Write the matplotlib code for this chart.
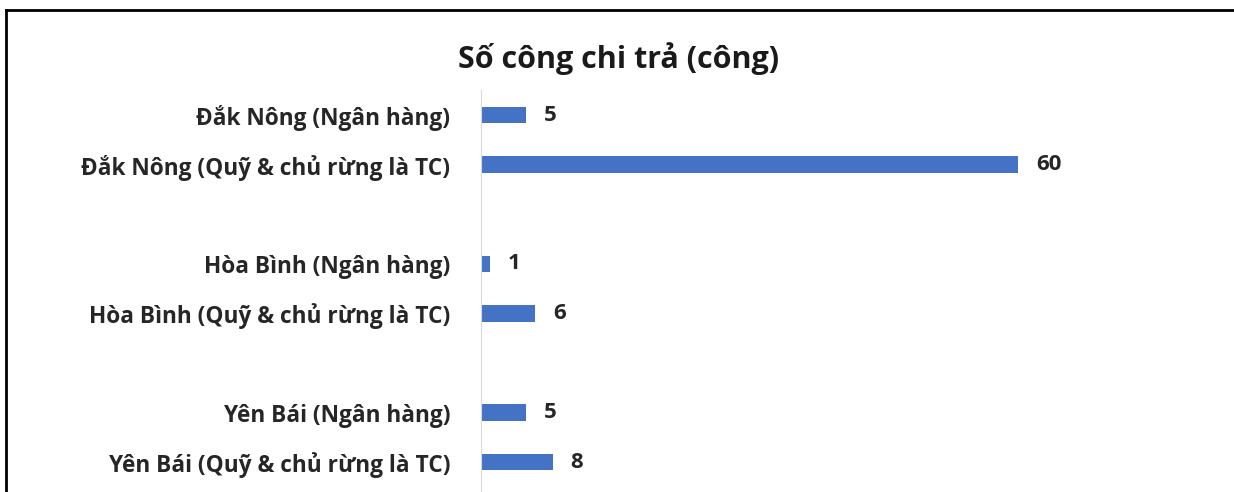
import numpy as np
import matplotlib.pyplot as plt
from matplotlib.lines import Line2D

# Data
categories = ["Đắk Nông (Ngân hàng)", "Đắk Nông (Quỹ & chủ rừng là TC)",
              "Hòa Bình (Ngân hàng)", "Hòa Bình (Quỹ & chủ rừng là TC)",
              "Yên Bái (Ngân hàng)", "Yên Bái (Quỹ & chủ rừng là TC)"]
values = [5, 60, 1, 6, 5, 8]
title = "Số công chi trả (công)"

plt.rcParams['font.family'] = ['Open Sans', 'DejaVu Sans']
bar_color = "#4472C4"
text_color = "#262626"

fig = plt.figure(figsize=(12.34, 4.92), dpi=100)
W, H = 1234, 492
# axes: x=0 at 481px, 60 at 1018px; rows from y=90px to bottom
px_per_unit = (1018 - 481) / 60
xmax = 75
ax = fig.add_axes([481 / W, 0, xmax * px_per_unit / W, (H - 90) / H])

# pairs of rows with an empty slot between provinces
pos = np.array([i + i // 2 for i in range(len(values))])
ax.barh(pos, values, height=0.33, color=bar_color)
ax.set_xlim(0, xmax)
ax.set_ylim((H - 115) / 49.6, -25 / 49.6)

ax.set_yticks(pos)
ax.set_yticklabels(categories, fontsize=16.3, fontweight="bold", color=text_color)
ax.tick_params(axis='y', length=0, pad=22)
ax.set_xticks([])
for s in ["top", "right", "bottom"]:
    ax.spines[s].set_visible(False)
ax.spines["left"].set_color("#d9d9d9")

for p, v in zip(pos, values):
    ax.annotate(str(v), (v, p), xytext=(13, 0), textcoords="offset points",
                va="center", ha="left", fontsize=16, fontweight="bold", color=text_color)

fig.text(619 / W, 1 - 59 / H, title, ha="center", va="center",
         fontsize=22, fontweight="bold", color="#1a1a1a")

# outer frame (top and left edges visible)
fig.add_artist(Line2D([6 / W, 1], [1 - 10 / H, 1 - 10 / H], color="black", lw=2))
fig.add_artist(Line2D([6 / W, 6 / W], [0, 1 - 10 / H], color="black", lw=2))

fig.savefig("out.png", dpi=100)
plt.close()
